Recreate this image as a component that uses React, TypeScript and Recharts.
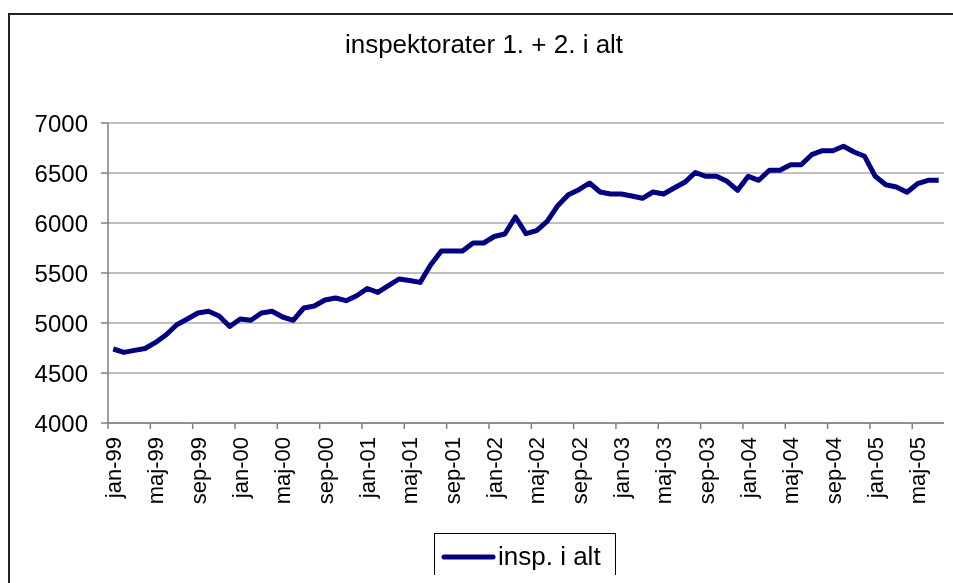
import { LineChart, Line, XAxis, YAxis, CartesianGrid, Legend } from 'recharts'

const font = '"Liberation Sans", Arial, sans-serif'

// monthly categories, jan-99 .. jul-05
const months = [
  'jan-99', 'feb-99', 'mar-99', 'apr-99', 'maj-99', 'jun-99', 'jul-99', 'aug-99', 'sep-99', 'okt-99', 'nov-99', 'dec-99',
  'jan-00', 'feb-00', 'mar-00', 'apr-00', 'maj-00', 'jun-00', 'jul-00', 'aug-00', 'sep-00', 'okt-00', 'nov-00', 'dec-00',
  'jan-01', 'feb-01', 'mar-01', 'apr-01', 'maj-01', 'jun-01', 'jul-01', 'aug-01', 'sep-01', 'okt-01', 'nov-01', 'dec-01',
  'jan-02', 'feb-02', 'mar-02', 'apr-02', 'maj-02', 'jun-02', 'jul-02', 'aug-02', 'sep-02', 'okt-02', 'nov-02', 'dec-02',
  'jan-03', 'feb-03', 'mar-03', 'apr-03', 'maj-03', 'jun-03', 'jul-03', 'aug-03', 'sep-03', 'okt-03', 'nov-03', 'dec-03',
  'jan-04', 'feb-04', 'mar-04', 'apr-04', 'maj-04', 'jun-04', 'jul-04', 'aug-04', 'sep-04', 'okt-04', 'nov-04', 'dec-04',
  'jan-05', 'feb-05', 'mar-05', 'apr-05', 'maj-05', 'jun-05', 'jul-05',
]

const inspIAlt = [
  4740, 4706, 4726, 4745, 4806, 4883, 4983, 5040, 5100, 5117, 5070, 4965,
  5040, 5027, 5100, 5117, 5060, 5027, 5150, 5170, 5230, 5250, 5223, 5273,
  5345, 5306, 5373, 5440, 5425, 5406, 5583, 5720, 5720, 5720, 5800, 5800,
  5865, 5890, 6060, 5893, 5923, 6017, 6173, 6283, 6333, 6400, 6310, 6290,
  6290, 6270, 6247, 6310, 6290, 6350, 6407, 6505, 6467, 6467, 6417, 6327,
  6467, 6427, 6527, 6527, 6583, 6583, 6683, 6723, 6723, 6767, 6710, 6667,
  6467, 6383, 6360, 6307, 6393, 6427, 6427,
]

const yTicks = [4000, 4500, 5000, 5500, 6000, 6500, 7000]
const labelEvery = 4

const data = months.map((m, i) => ({ idx: i, month: m, 'insp. i alt': inspIAlt[i] }))

// labels sit on category centres, tick marks on the boundaries between categories
const xTicks: number[] = []
months.forEach((_, i) => {
  if (i % labelEvery === 0) xTicks.push(i - 0.5, i)
})

function MonthTick(props: any) {
  const { x, y, payload } = props
  const v = payload.value
  if (!Number.isInteger(v)) {
    return <line x1={x} x2={x} y1={y} y2={y + 6} stroke="#808080" strokeWidth={1.5} />
  }
  const ty = y + 14
  return (
    <text x={x} y={ty} dy="0.35em" transform={`rotate(-90 ${x} ${ty})`} textAnchor="end"
      fontSize={22} fontFamily={font} fill="#000">
      {months[v]}
    </text>
  )
}

function LegendBox(props: any) {
  const item = props.payload?.[0]
  if (!item) return null
  return (
    <div style={{
      boxSizing: 'border-box', width: 182, height: 47, border: '1px solid #000', background: '#fff',
      display: 'flex', alignItems: 'center', fontFamily: font, fontSize: 26, color: '#000',
    }}>
      <svg width={63} height={12} style={{ flex: 'none' }}>
        <line x1={9} x2={58} y1={6} y2={6} stroke={item.color} strokeWidth={5} strokeLinecap="round" />
      </svg>
      <span>{item.value}</span>
    </div>
  )
}

export default function App() {
  return (
    <div style={{ position: 'relative', width: 937, height: 567, background: '#fff' }}>
      {/* chart frame: only its left and top edges fall inside the picture */}
      <div style={{
        position: 'fixed', left: 8, top: 13, width: 945, height: 600,
        borderLeft: '2px solid #222', borderTop: '2px solid #222', boxSizing: 'border-box',
      }} />
      <div style={{
        position: 'absolute', left: 276, top: 24, width: 400, textAlign: 'center',
        fontFamily: font, fontSize: 26, lineHeight: '25px', color: '#000', zIndex: 2,
      }}>
        inspektorater 1. + 2. i alt
      </div>
      <div style={{ position: 'absolute', left: 0, top: 0 }}>
        <LineChart width={937} height={575} data={data}
          margin={{ top: 115, right: 1, bottom: 60, left: 20 }}>
          <CartesianGrid vertical={false} stroke="#808080" strokeWidth={1} />
          <XAxis dataKey="idx" type="number" domain={[-0.5, months.length - 0.5]}
            ticks={xTicks} interval={0} height={100} tickSize={0} tickMargin={0}
            tickLine={false} tick={<MonthTick />} stroke="#808080" strokeWidth={1.5} />
          <YAxis domain={[4000, 7000]} ticks={yTicks} interval={0} width={80}
            tickSize={7} tickMargin={13} stroke="#808080" strokeWidth={1.5}
            tick={{ fontSize: 24, fontFamily: font, fill: '#000' }} />
          <Legend layout="horizontal" verticalAlign="middle" align="center"
            content={<LegendBox />}
            wrapperStyle={{ left: 426, top: 525, width: 182, height: 47 }} />
          <Line type="linear" dataKey="insp. i alt" stroke="#000080" strokeWidth={5}
            strokeLinejoin="round" dot={false} activeDot={false} isAnimationActive={false} />
        </LineChart>
      </div>
    </div>
  )
}
